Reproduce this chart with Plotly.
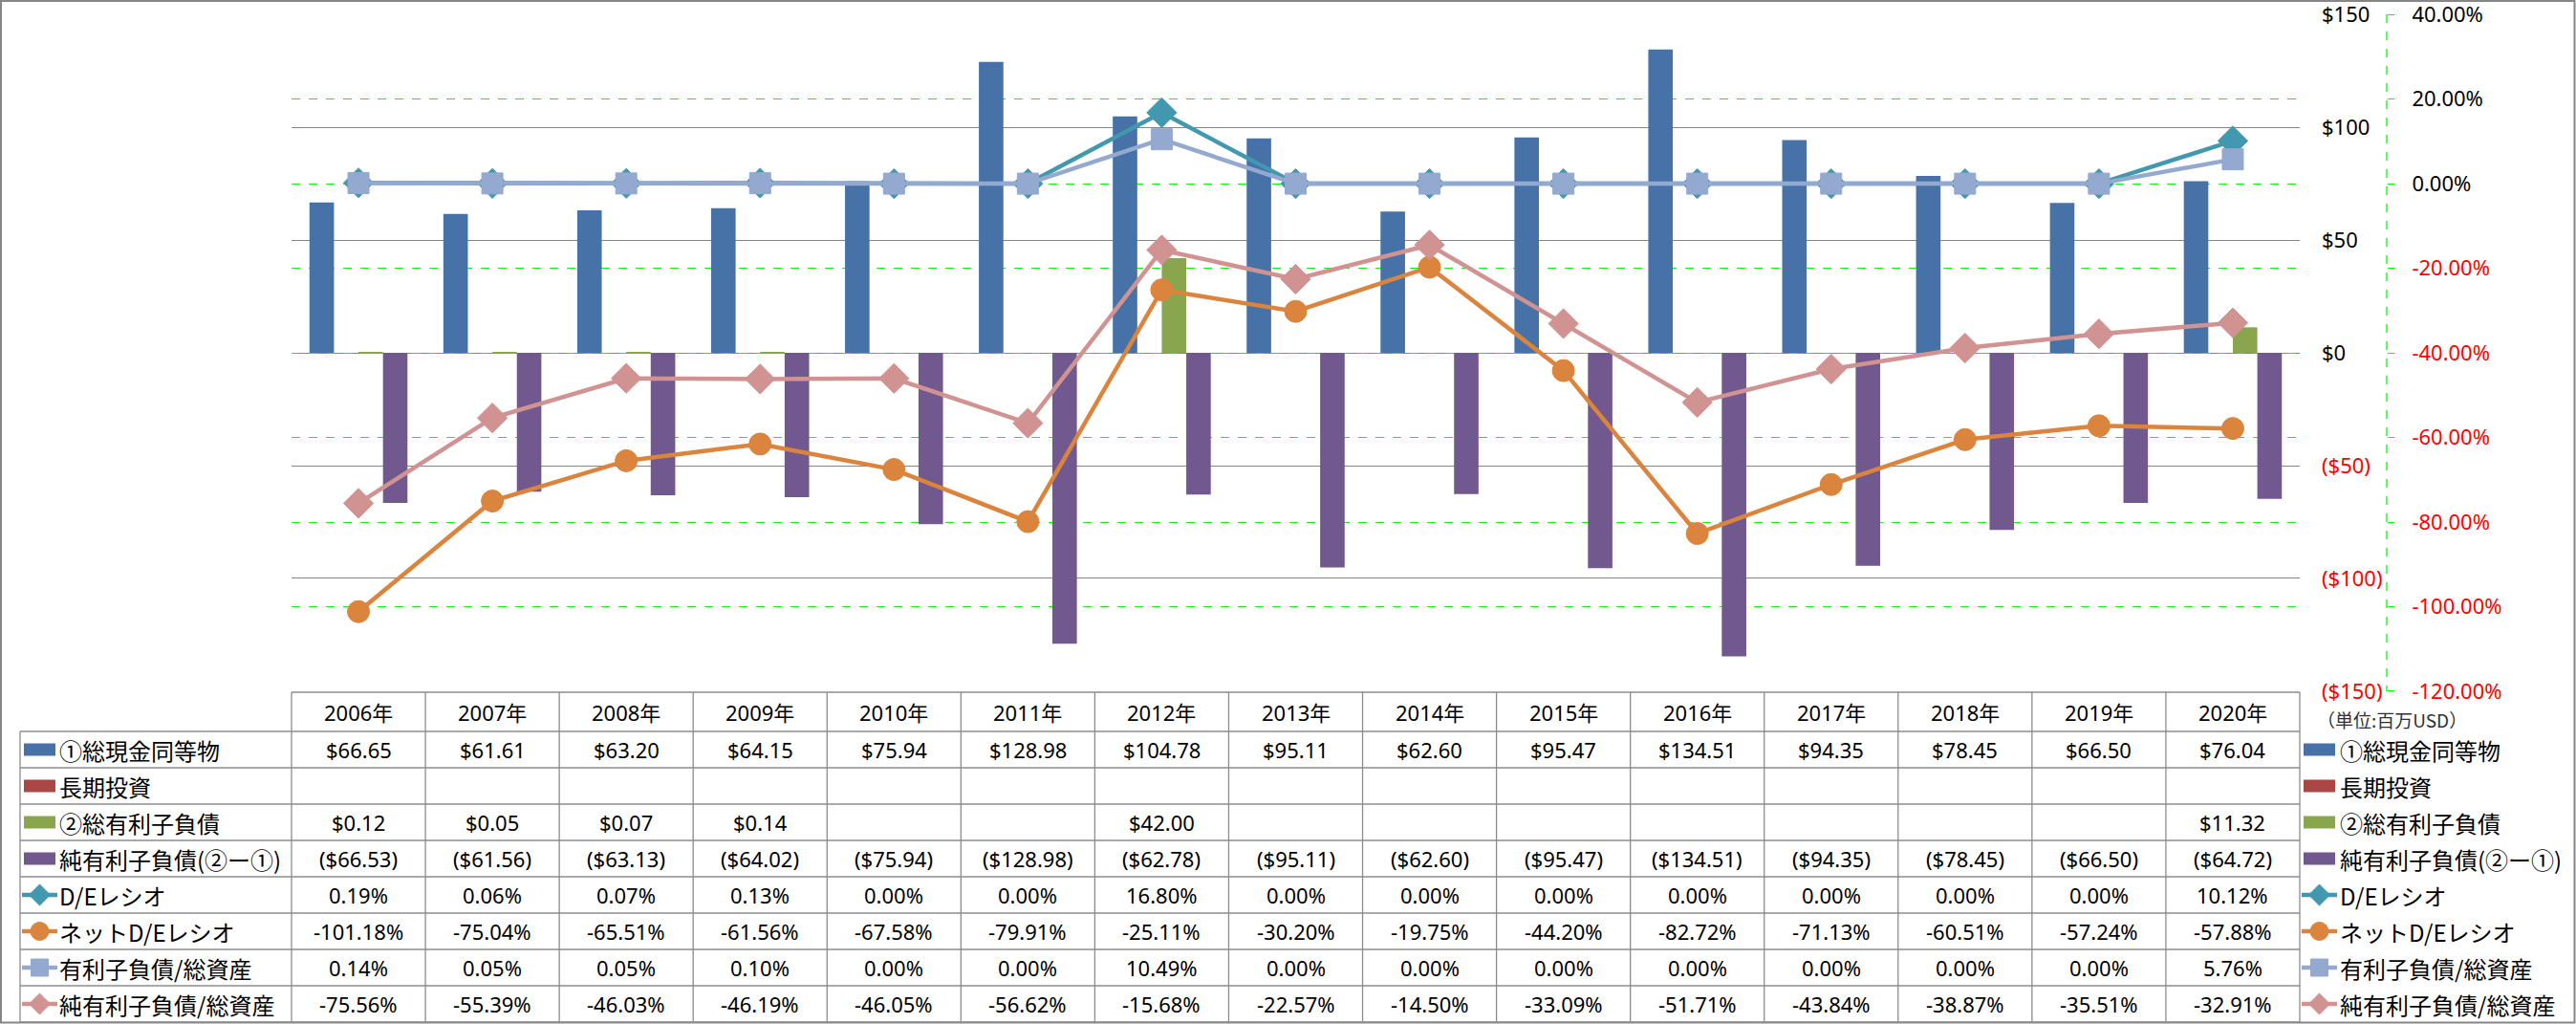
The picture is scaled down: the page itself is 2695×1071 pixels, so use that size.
import plotly.graph_objects as go

W, H = 2695, 1071

# ---------------- data ----------------
years = ["2006年", "2007年", "2008年", "2009年", "2010年", "2011年", "2012年", "2013年",
         "2014年", "2015年", "2016年", "2017年", "2018年", "2019年", "2020年"]
cash = [66.65, 61.61, 63.20, 64.15, 75.94, 128.98, 104.78, 95.11, 62.60, 95.47, 134.51, 94.35, 78.45, 66.50, 76.04]
lt_invest = [None] * 15
debt = [0.12, 0.05, 0.07, 0.14, None, None, 42.00, None, None, None, None, None, None, None, 11.32]
net_debt = [-66.53, -61.56, -63.13, -64.02, -75.94, -128.98, -62.78, -95.11, -62.60, -95.47, -134.51,
            -94.35, -78.45, -66.50, -64.72]
de_ratio = [0.19, 0.06, 0.07, 0.13, 0.00, 0.00, 16.80, 0.00, 0.00, 0.00, 0.00, 0.00, 0.00, 0.00, 10.12]
net_de_ratio = [-101.18, -75.04, -65.51, -61.56, -67.58, -79.91, -25.11, -30.20, -19.75, -44.20, -82.72,
                -71.13, -60.51, -57.24, -57.88]
debt_to_assets = [0.14, 0.05, 0.05, 0.10, 0.00, 0.00, 10.49, 0.00, 0.00, 0.00, 0.00, 0.00, 0.00, 0.00, 5.76]
net_debt_to_assets = [-75.56, -55.39, -46.03, -46.19, -46.05, -56.62, -15.68, -22.57, -14.50, -33.09, -51.71,
                      -43.84, -38.87, -35.51, -32.91]

series_names = ["①総現金同等物", "長期投資", "②総有利子負債", "純有利子負債(②ー①)",
                "D/Eレシオ", "ネットD/Eレシオ", "有利子負債/総資産", "純有利子負債/総資産"]
primary_ticks = [-150, -100, -50, 0, 50, 100, 150]
secondary_ticks = [-120, -100, -80, -60, -40, -20, 0, 20, 40]
unit_label = "（単位:百万USD）"

# ---------------- styles ----------------
C_BLUE = "#4672A7"
C_RED = "#AA4643"
C_GREEN = "#89A54E"
C_PURPLE = "#71588F"
C_TEAL = "#4198AF"
C_ORANGE = "#DB843D"
C_LBLUE = "#93A9CF"
C_PINK = "#D19392"
GRID_GRAY = "#868686"
TABLE_GRAY = "#8C8C8C"
LIME = "#00FF00"
RED_TXT = "#FF0000"
FONT = "Noto Sans, Noto Sans CJK JP, sans-serif"
JFONT = "Noto Sans CJK JP, Noto Sans, sans-serif"

# plot area in pixels
PL, PR, PT, PB = 305, 2406, 15, 723
AX2_X = 2497


def px(x):
    return x / W


def py(y):
    return 1 - y / H


def fmt_usd(v):
    if v is None:
        return ""
    if v < 0:
        return f"(${-v:.2f})"
    return f"${v:.2f}"


def fmt_pct(v):
    if v is None:
        return ""
    return f"{v:.2f}%"


def fmt_axis_usd(v):
    if v < 0:
        return f'<span style="color:{RED_TXT}">(${-v:.0f})</span>'
    return f"${v:.0f}"


def fmt_axis_pct(v):
    if v < 0:
        return f'<span style="color:{RED_TXT}">{v:.2f}%</span>'
    return f"{v:.2f}%"


fig = go.Figure()

BW = 0.183
bar_specs = [
    (cash, C_BLUE, -2 * BW),
    (lt_invest, C_RED, -BW),
    (debt, C_GREEN, 0.0),
    (net_debt, C_PURPLE, BW),
]
for (vals, col, off), name in zip(bar_specs, series_names[:4]):
    fig.add_trace(go.Bar(x=years, y=vals, name=name, marker=dict(color=col, line=dict(width=0)),
                         width=BW, offset=off, yaxis="y"))

line_specs = [
    (de_ratio, C_TEAL, "diamond", 24),
    (net_de_ratio, C_ORANGE, "circle", 23),
    (debt_to_assets, C_LBLUE, "square", 22),
    (net_debt_to_assets, C_PINK, "diamond", 24),
]
for (vals, col, sym, sz), name in zip(line_specs, series_names[4:]):
    fig.add_trace(go.Scatter(x=years, y=vals, name=name, yaxis="y2", mode="lines+markers",
                             line=dict(color=col, width=4.5),
                             marker=dict(symbol=sym, size=sz, color=col, line=dict(color=col, width=1))))

fig.update_layout(
    width=W, height=H,
    margin=dict(l=0, r=0, t=0, b=0, autoexpand=False),
    paper_bgcolor="white", plot_bgcolor="white",
    showlegend=False,
    barmode="overlay",
    font=dict(family=FONT, size=22, color="black"),
    xaxis=dict(type="category", categoryorder="array", categoryarray=years,
               domain=[px(PL), px(PR)], range=[-0.5, 14.5], automargin=False,
               showticklabels=False, showgrid=False, zeroline=False, showline=False, ticks=""),
    yaxis=dict(domain=[py(PB), py(PT)], range=[-150.02, 150.05], side="right", automargin=False,
               tickvals=primary_ticks, ticktext=[fmt_axis_usd(v) for v in primary_ticks],
               showgrid=True, gridcolor=GRID_GRAY, gridwidth=1.3, zeroline=False, showline=False,
               ticks="", ticklabelstandoff=22, ticklabeloverflow="allow",
               tickfont=dict(size=22, color="black")),
    yaxis2=dict(overlaying="y", side="right", anchor="free", position=px(AX2_X), automargin=False,
                range=[-120.01, 40.03], tickvals=secondary_ticks,
                ticktext=[fmt_axis_pct(v) for v in secondary_ticks],
                showgrid=True, gridcolor=LIME, griddash="dash", gridwidth=1.3,
                zeroline=False, showline=False, ticks="outside", ticklen=7, tickcolor=LIME,
                tickwidth=1.3, ticklabelstandoff=14, ticklabeloverflow="allow",
                tickfont=dict(size=22, color="black")),
)

shapes = []
# secondary axis dashed line
shapes.append(dict(type="line", xref="paper", yref="paper", x0=px(AX2_X), x1=px(AX2_X),
                   y0=py(PT), y1=py(PB), line=dict(color=LIME, width=1.3, dash="dash")))
# outer border
shapes.append(dict(type="rect", xref="paper", yref="paper", x0=px(1), x1=px(W - 1.5),
                   y0=py(H - 1.5), y1=py(1), line=dict(color=GRID_GRAY, width=2)))

# ---------------- data table ----------------
T_LEFT = 21
HEAD_TOP = 724
HEAD_BOT = 765
ROW_H = 38
n_rows = len(series_names)
row_tops = [HEAD_BOT + i * ROW_H for i in range(n_rows + 1)]
col_w = (PR - PL) / len(years)

shapes.append(dict(type="line", xref="paper", yref="paper", x0=px(PL), x1=px(PR),
                   y0=py(HEAD_TOP), y1=py(HEAD_TOP), line=dict(color=TABLE_GRAY, width=1.3)))
for yy in row_tops:
    shapes.append(dict(type="line", xref="paper", yref="paper", x0=px(T_LEFT), x1=px(PR),
                       y0=py(yy), y1=py(yy), line=dict(color=TABLE_GRAY, width=1.3)))
shapes.append(dict(type="line", xref="paper", yref="paper", x0=px(T_LEFT), x1=px(T_LEFT),
                   y0=py(HEAD_BOT), y1=py(row_tops[-1]), line=dict(color=TABLE_GRAY, width=1.3)))
for k in range(len(years) + 1):
    xx = PL + k * col_w
    shapes.append(dict(type="line", xref="paper", yref="paper", x0=px(xx), x1=px(xx),
                       y0=py(HEAD_TOP), y1=py(row_tops[-1]), line=dict(color=TABLE_GRAY, width=1.3)))

annotations = []
head_cy = (HEAD_TOP + HEAD_BOT) / 2
for yr in years:
    annotations.append(dict(x=yr, xref="x", y=py(head_cy), yref="paper", text=yr, showarrow=False,
                            xanchor="center", yanchor="middle", font=dict(size=22, family=FONT)))

row_values = [cash, lt_invest, debt, net_debt, de_ratio, net_de_ratio, debt_to_assets, net_debt_to_assets]
row_fmts = [fmt_usd] * 4 + [fmt_pct] * 4
for r, (vals, f) in enumerate(zip(row_values, row_fmts)):
    cy = row_tops[r] + ROW_H / 2
    for yr, v in zip(years, vals):
        t = f(v)
        if t:
            annotations.append(dict(x=yr, xref="x", y=py(cy), yref="paper", text=t, showarrow=False,
                                    xanchor="center", yanchor="middle", font=dict(size=22, family=FONT)))

swatch_kinds = [("bar", C_BLUE), ("bar", C_RED), ("bar", C_GREEN), ("bar", C_PURPLE),
                ("diamond", C_TEAL), ("circle", C_ORANGE), ("square", C_LBLUE), ("diamond", C_PINK)]


def add_swatch(kind, col, x0, x1, cy):
    if kind == "bar":
        shapes.append(dict(type="rect", xref="paper", yref="paper", x0=px(x0 + 2), x1=px(x1 - 2),
                           y0=py(cy + 6.5), y1=py(cy - 6.5), fillcolor=col, line=dict(width=0)))
        return
    shapes.append(dict(type="line", xref="paper", yref="paper", x0=px(x0), x1=px(x1),
                       y0=py(cy), y1=py(cy), line=dict(color=col, width=4.5)))
    cx = (x0 + x1) / 2
    if kind == "diamond":
        r = 11
        pts = [(cx - r, cy), (cx, cy - r), (cx + r, cy), (cx, cy + r)]
        path = "M " + " L ".join(f"{px(a):.6f},{py(b):.6f}" for a, b in pts) + " Z"
        shapes.append(dict(type="path", xref="paper", yref="paper", path=path,
                           fillcolor=col, line=dict(color=col, width=1)))
    elif kind == "circle":
        r = 9.5
        shapes.append(dict(type="circle", xref="paper", yref="paper", x0=px(cx - r), x1=px(cx + r),
                           y0=py(cy + r), y1=py(cy - r), fillcolor=col, line=dict(color=col, width=1)))
    else:
        r = 9
        shapes.append(dict(type="rect", xref="paper", yref="paper", x0=px(cx - r), x1=px(cx + r),
                           y0=py(cy + r), y1=py(cy - r), fillcolor=col, line=dict(color=col, width=1)))


for r, (name, (kind, col)) in enumerate(zip(series_names, swatch_kinds)):
    cy = row_tops[r] + ROW_H / 2
    # left label column
    add_swatch(kind, col, 23, 60, cy)
    annotations.append(dict(x=px(60), xref="paper", y=py(cy), yref="paper", text=name, showarrow=False,
                            xanchor="left", yanchor="middle", font=dict(size=24, family=JFONT)))
    # right legend
    add_swatch(kind, col, 2408, 2445, cy)
    annotations.append(dict(x=px(2446), xref="paper", y=py(cy), yref="paper", text=name, showarrow=False,
                            xanchor="left", yanchor="middle", font=dict(size=24, family=JFONT)))

annotations.append(dict(x=px(2422), xref="paper", y=py(752), yref="paper", text=unit_label,
                        showarrow=False, xanchor="left", yanchor="middle",
                        font=dict(size=19, family=JFONT, color="#303030")))

fig.update_layout(shapes=shapes, annotations=annotations)

fig.write_html("out.html", config={"displayModeBar": False},
               post_script="document.body.style.margin='0';document.body.style.overflow='hidden';")
